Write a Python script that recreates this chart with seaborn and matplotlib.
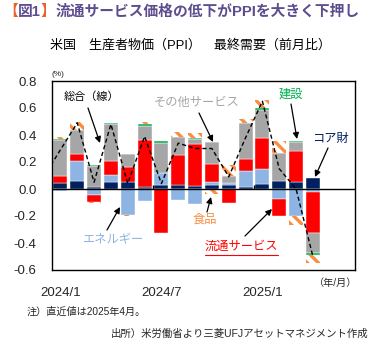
import numpy as np
import pandas as pd
import matplotlib
matplotlib.use("Agg")
import matplotlib.pyplot as plt
import seaborn as sns

# ---------------- data ----------------
months = ["2024/1", "2024/2", "2024/3", "2024/4", "2024/5", "2024/6", "2024/7", "2024/8",
          "2024/9", "2024/10", "2024/11", "2024/12", "2025/1", "2025/2", "2025/3", "2025/4"]
core_goods = [0.042, 0.062, 0.015, 0.050, 0.050, 0.015, 0.030, 0.030, 0.025, 0.030, 0.030, 0.012, 0.037, 0.059, 0.054, 0.079]
energy = [-0.017, 0.148, -0.047, 0.056, -0.190, -0.086, 0.088, -0.084, -0.109, 0.024, 0.012, 0.121, 0.109, -0.077, -0.200, -0.020]
trade_services = [0.054, 0.047, -0.052, 0.099, 0.113, 0.350, -0.326, 0.220, 0.306, 0.131, -0.106, 0.091, 0.230, -0.123, 0.230, -0.309]
other_services = [0.267, 0.178, 0.153, 0.279, 0.094, 0.104, 0.222, 0.133, 0.040, 0.160, 0.057, 0.262, 0.210, 0.210, 0.062, -0.148]
construction = [0.010, 0.004, 0.007, 0.005, 0.005, 0.010, 0.015, 0.000, 0.007, 0.000, 0.000, 0.000, 0.012, 0.000, 0.010, -0.010]
food = [0.015, 0.060, -0.007, -0.004, -0.012, 0.015, 0.000, 0.040, 0.040, -0.040, 0.080, 0.030, 0.060, 0.090, -0.067, -0.064]

# total (line) starts one month earlier (2023/12), clipped at the left edge
total_months = ["2023/12"] + months
total = [0.09, 0.29, 0.49, 0.05, 0.48, 0.04, 0.39, 0.04, 0.34, 0.30, 0.30, 0.09, 0.38, 0.65, 0.15, 0.00, -0.50]

xtick_labels = ["2024/1", "2024/7", "2025/1"]
yticks = [-0.6, -0.4, -0.2, 0.0, 0.2, 0.4, 0.6, 0.8]

# ---------------- style ----------------
sns.set_style("white")
plt.rcParams["font.family"] = ["Liberation Sans", "Noto Sans CJK JP"]
plt.rcParams["hatch.linewidth"] = 2.4

C_CORE = "#002060"
C_ENERGY = "#8DB4E2"
C_TRADE = "#FF0000"
C_OTHER = "#A6A6A6"
C_CONS = "#00B050"
C_FOOD = "#F98E43"

W, H = 375, 344
fig = plt.figure(figsize=(W / 100, H / 100), dpi=100)
ax = fig.add_axes([52 / W, 1 - 270 / H, 303 / W, 189 / H])

idx = np.arange(len(months))
components = [
    (core_goods, dict(color=C_CORE)),
    (energy, dict(color=C_ENERGY)),
    (trade_services, dict(color=C_TRADE)),
    (other_services, dict(color=C_OTHER)),
    (construction, dict(color=C_CONS)),
    (food, dict(color="white", edgecolor=C_FOOD, hatch="\\\\\\", linewidth=0)),
]

pos = np.zeros(len(months))
neg = np.zeros(len(months))
for vals, kw in components:
    v = np.asarray(vals, dtype=float)
    bottom = np.where(v >= 0, pos, neg)
    df = pd.DataFrame({"x": idx, "y": v})
    extra = dict(edgecolor="white", linewidth=0.3)
    extra.update(kw)
    sns.barplot(data=df, x="x", y="y", native_scale=True, width=0.83, saturation=1,
                bottom=bottom, errorbar=None, ax=ax, zorder=2, **extra)
    pos = pos + np.where(v >= 0, v, 0)
    neg = neg + np.where(v < 0, v, 0)

line_df = pd.DataFrame({"x": np.arange(-1, len(months)), "y": total})
sns.lineplot(data=line_df, x="x", y="y", ax=ax, color="black", lw=1.0,
             linestyle=(0, (3, 2)), zorder=4, clip_on=True)

ax.axhline(0, color="black", lw=1.0, zorder=3)
ax.vlines([5.5, 11.5], 0, 0.03, color="black", lw=1.0, zorder=3)

ax.set_xlim(-0.5, 17.5)
ax.set_ylim(-0.6, 0.8)
ax.set_yticks(yticks)
ax.set_yticklabels([f"{t:.1f}" for t in yticks])
ax.set_xticks([months.index(m) for m in xtick_labels])
ax.set_xticklabels(xtick_labels)
ax.tick_params(axis="y", direction="in", length=5, width=1, pad=11, labelsize=9.5)
ax.tick_params(axis="x", length=0, pad=12, labelsize=9.5)
ax.set_xlabel("")
ax.set_ylabel("")
for s in ax.spines.values():
    s.set_visible(True)
    s.set_color("black")
    s.set_linewidth(1.0)

# ---------------- texts ----------------
def fx(px):
    return px / W

def fy(py):
    return 1 - py / H

# title with coloured brackets
fig.canvas.draw()
renderer = fig.canvas.get_renderer()
title_parts = [("【", "#E8622C"), ("図1", "#5D4C8E"), ("】", "#E8622C"),
               ("流通サービス価格の低下がPPIを大きく下押し", "#5D4C8E")]
xcur = 3
for txt, col in title_parts:
    t = fig.text(fx(xcur), fy(12), txt, color=col, fontsize=10.6, fontweight="bold",
                 ha="left", va="center")
    bb = t.get_window_extent(renderer=renderer)
    xcur += bb.width

fig.text(fx(190), fy(45), "米国　生産者物価（PPI）　最終需要（前月比）", fontsize=9.4,
         ha="center", va="center", color="black")
fig.text(fx(52), fy(74), "(%)", fontsize=6, ha="left", va="center")
fig.text(fx(336), fy(283), "（年/月）", fontsize=7.3, ha="center", va="center")
fig.text(fx(27), fy(312), "注）直近値は2025年4月。", fontsize=7.3, ha="left", va="center")
fig.text(fx(368), fy(334), "出所）米労働省より三菱UFJアセットマネジメント作成", fontsize=7.5,
         ha="right", va="center")

arrow = dict(arrowstyle="-|>", color="black", lw=0.9, mutation_scale=9, shrinkA=0, shrinkB=0)

def label(text, tx, ty, ax_from, ay_from, ax_to, ay_to, color, size=8.8):
    fig.text(fx(tx), fy(ty), text, color=color, fontsize=size, ha="center", va="center")
    fig.patches.append(matplotlib.patches.FancyArrowPatch(
        (fx(ax_from), fy(ay_from)), (fx(ax_to), fy(ay_to)),
        transform=fig.transFigure, figure=fig, **arrow))

label("総合（線）", 91, 97, 88, 108, 100, 143, "black", 8.0)
label("その他サービス", 197, 103, 199, 113, 213, 142, C_OTHER)
label("建設", 291, 95, 291, 104, 297, 139, C_CONS)
label("コア財", 330, 139, 328, 148, 315, 177, C_CORE)
label("エネルギー", 114, 240, 107, 230, 120, 207, C_ENERGY)
label("食品", 205, 220, 207, 212, 211, 197, C_FOOD)
label("流通サービス", 241, 247, 245, 236, 272, 209, C_TRADE)
fig.lines.append(matplotlib.lines.Line2D([fx(205), fx(278)], [fy(255), fy(255)],
                                         color=C_TRADE, lw=0.8, transform=fig.transFigure))

fig.savefig("out.png", dpi=100)
